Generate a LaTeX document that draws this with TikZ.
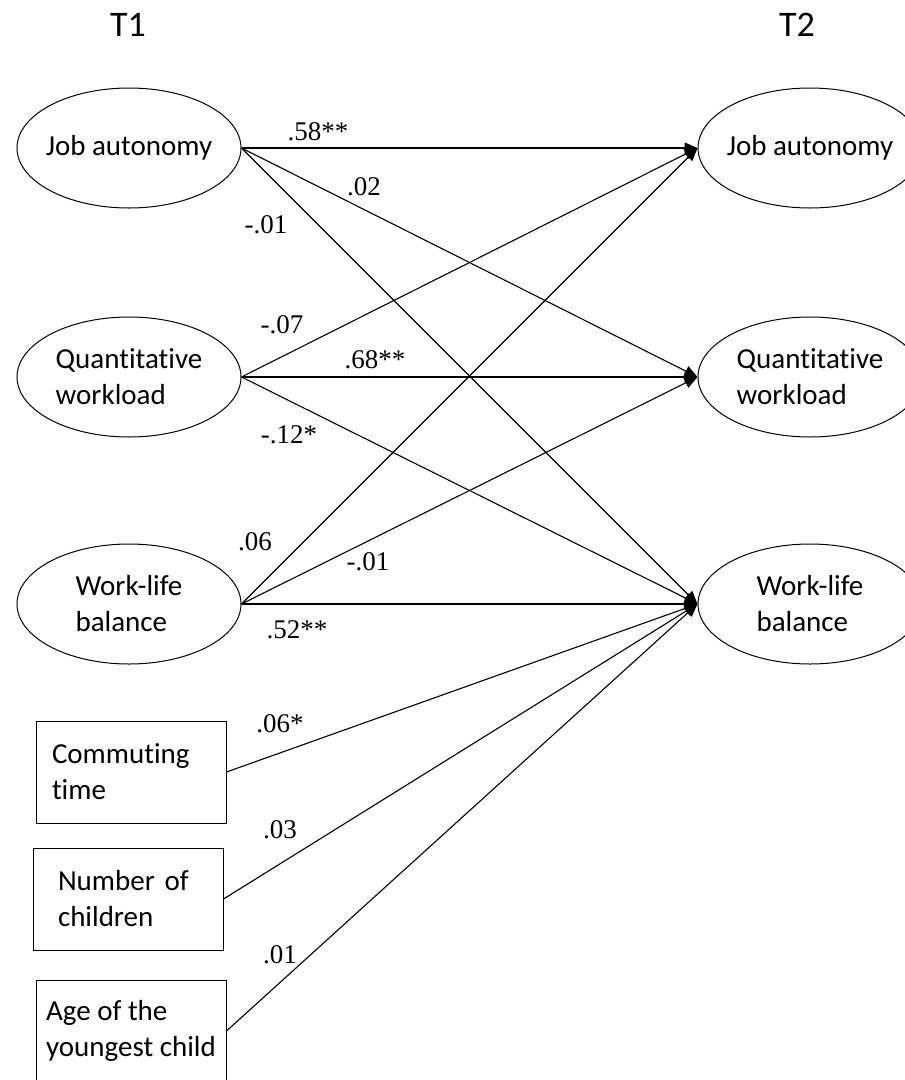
\documentclass[tikz,border=0pt]{standalone}
\usepackage{fontspec}
\setmainfont{Liberation Serif}
\newfontfamily\calfont[Ligatures=NoCommon]{Carlito}
\usetikzlibrary{arrows.meta,shapes.geometric}
\begin{document}
\begin{tikzpicture}[x=1pt,y=-1pt,
  latent/.style={draw,ellipse,line width=1pt,minimum width=224pt,minimum height=120pt,
    inner xsep=-30pt,inner ysep=0pt,
    align=left,font=\calfont\fontsize{29}{36}\selectfont},
  obs/.style={draw,rectangle,line width=1pt,minimum height=102pt,align=left,
    font=\calfont\fontsize{29}{36}\selectfont},
  path/.style={line width=1.1pt,-{Triangle[length=13pt,width=11pt]}},
  coef/.style={anchor=base,inner sep=0pt,font=\fontsize{27}{32}\selectfont},
  head/.style={anchor=base,inner sep=0pt,font=\calfont\fontsize{36}{42}\selectfont}]
\useasboundingbox (0,0) rectangle (905,1080);
\fill[white] (0,0) rectangle (905,1080);
% headers
\node[head] (t1) at (128,36) {T1};
\node[head] (t2) at (797,36) {T2};
% T1 latent
\node[latent] (ja1) at (129,148) {Job autonomy};
\node[latent] (qw1) at (129,377) {Quantitative\\workload};
\node[latent] (wl1) at (129,604) {Work-life\\balance};
% T2 latent
\node[latent] (ja2) at (810,148) {Job autonomy};
\node[latent] (qw2) at (810,377) {Quantitative\\workload};
\node[latent] (wl2) at (810,604) {Work-life\\balance};
% observed controls
\node[obs,inner xsep=16pt,text width=158pt] (ct) at (131,772) {Commuting\\time};
\node[obs,inner xsep=25pt,text width=140pt] (nc) at (128,899) {Number of\\children};
\node[obs,minimum width=190pt] (ag) at (131,1031) {Age of the\\youngest child};
% paths
\draw[path] (ja1.east) -- (ja2.west);
\draw[path] (ja1.east) -- (qw2.west);
\draw[path] (ja1.east) -- (wl2.west);
\draw[path] (qw1.east) -- (ja2.west);
\draw[path] (qw1.east) -- (qw2.west);
\draw[path] (qw1.east) -- (wl2.west);
\draw[path] (wl1.east) -- (ja2.west);
\draw[path] (wl1.east) -- (qw2.west);
\draw[path] (wl1.east) -- (wl2.west);
\draw[path] (ct.east) -- (wl2.west);
\draw[path] (nc.east) -- (wl2.west);
\draw[path] (ag.east) -- (wl2.west);
% coefficients
\node[coef] (c1) at (318,140) {.58**};
\node[coef] (c2) at (364,195) {.02};
\node[coef] (c3) at (266,233) {-.01};
\node[coef] (c4) at (282,333) {-.07};
\node[coef] (c5) at (375,368) {.68**};
\node[coef] (c6) at (289,443) {-.12*};
\node[coef] (c7) at (255,550) {.06};
\node[coef] (c8) at (368,570) {-.01};
\node[coef] (c9) at (297,638) {.52**};
\node[coef] (c10) at (280,732) {.06*};
\node[coef] (c11) at (280,838) {.03};
\node[coef] (c12) at (280,963) {.01};
\end{tikzpicture}
\end{document}
